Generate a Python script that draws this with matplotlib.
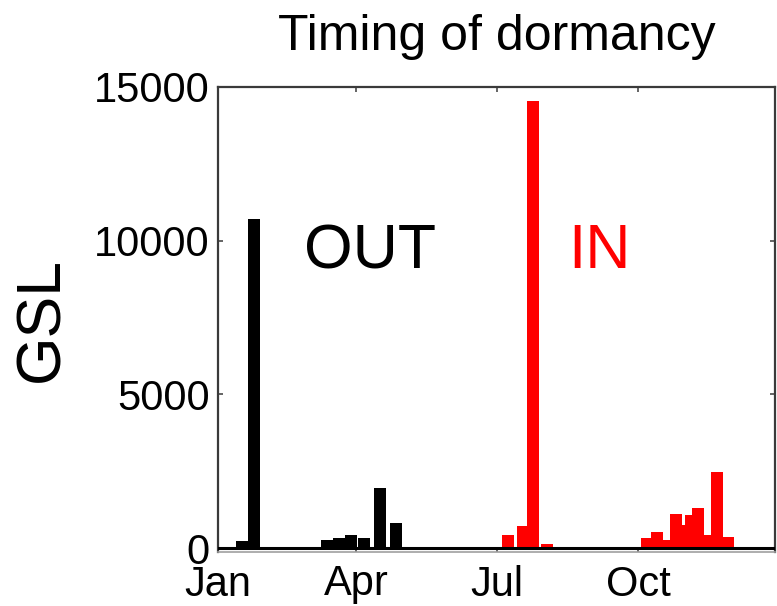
import matplotlib
matplotlib.use("Agg")
import matplotlib.pyplot as plt

# Data (day of year, GSL)
out_day = [16.6, 24.4, 71.9, 79.7, 87.5, 96.0, 106.4, 116.8]
out_gsl = [230, 10700, 260, 330, 420, 330, 1950, 810]
in_day = [189.7, 199.4, 205.9, 215.0, 279.5, 286.6, 294.4, 298.9, 306.7, 308.7,
          313.2, 320.4, 325.0, 332.2]
in_gsl = [420, 700, 14550, 130, 320, 520, 260, 1100, 750, 1070,
          1300, 420, 2470, 360]
month_ticks = [1, 91, 182, 274]
month_labels = ["Jan", "Apr", "Jul", "Oct"]
y_ticks = [0, 5000, 10000, 15000]

plt.rcParams['font.family'] = ['Liberation Sans', 'DejaVu Sans']

fig = plt.figure(figsize=(7.77, 6.06), dpi=100)
ax = fig.add_axes([218 / 777, 1 - 552 / 606, 557 / 777, 465 / 606])

bw = 7.8
for d, g in zip(out_day, out_gsl):
    ax.bar(d, g, width=bw, color="black", linewidth=0, align="center")
for d, g in zip(in_day, in_gsl):
    ax.bar(d, g, width=bw, color="#ff0000", linewidth=0, align="center")

ax.axhline(0, color="black", lw=2.2, zorder=3)

ax.set_xlim(1, 363)
ax.set_ylim(-130, 15000)
ax.set_xticks(month_ticks)
ax.set_xticklabels(month_labels)
ax.set_yticks(y_ticks)
ax.tick_params(direction="in", length=3.6, width=1.1, color="#3a3a3a",
               top=True, right=True, labelsize=30)
ax.tick_params(axis="y", pad=6)
ax.tick_params(axis="x", pad=9)

for s in ["left", "top", "right"]:
    ax.spines[s].set_color("#3a3a3a")
    ax.spines[s].set_linewidth(1.6)
ax.spines["bottom"].set_color("#a0a0a0")
ax.spines["bottom"].set_linewidth(1.2)

ax.set_title("Timing of dormancy", fontsize=36, pad=27)
ax.set_ylabel("GSL", fontsize=45)
ax.yaxis.set_label_coords(-0.264, 0.5)

ax.text(99.9, 9110, "OUT", fontsize=45, color="black", ha="center", va="baseline")
ax.text(249.2, 9110, "IN", fontsize=45, color="#ff0000", ha="center", va="baseline")

fig.savefig("out.png", dpi=100)
